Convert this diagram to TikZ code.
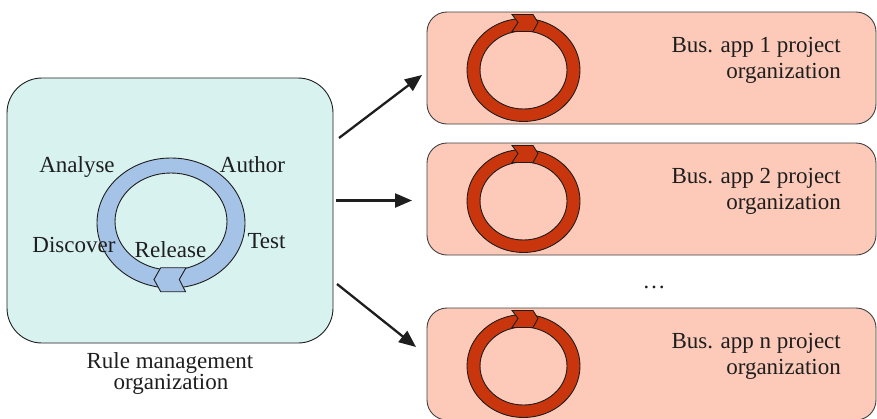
\documentclass[tikz,border=0pt]{standalone}
\usepackage{fontspec}
\setmainfont{Liberation Serif}
\usetikzlibrary{arrows.meta,calc}

\definecolor{orgfill}{HTML}{D8F2F0}
\definecolor{loopblue}{HTML}{A5C3E6}
\definecolor{appfill}{HTML}{FDCAB9}
\definecolor{loopred}{HTML}{C9350C}
\definecolor{ink}{HTML}{1E1E1E}

\tikzset{
  % circular arrow used in every project box
  apploop/.pic={
    \path[fill=loopred, draw=ink, line width=0.9pt, even odd rule]
      (0,0) ellipse [x radius=56.5pt, y radius=51.5pt]
      (0,0) ellipse [x radius=43.5pt, y radius=39pt];
    \path[fill=loopred, draw=ink, line width=0.9pt]
      (-11.5,-55.5) -- (9.5,-55.5) -- (14.5,-47.5) -- (9.5,-38.5)
      -- (-11.5,-38.5) -- (-5.5,-47.5) -- cycle;
  }
}

\begin{document}
\begin{tikzpicture}[x=1pt, y=-1pt,
  txt/.style={font=\fontsize{23}{26}\selectfont, text=ink, inner sep=0},
  orgbox/.style={draw=ink, line width=0.9pt, fill=orgfill, rounded corners=35pt,
    minimum width=326pt, minimum height=265pt, inner sep=0},
  appbox/.style={draw=ink!85, line width=0.9pt, fill=appfill, rounded corners=20pt,
    minimum width=449pt, minimum height=112pt, inner sep=0},
  lbl/.style={txt, anchor=base},
  rlbl/.style={txt, anchor=base east},
  flow/.style={draw=ink, line width=2.3pt, -{Triangle[length=17pt,width=14pt]}},
]
\useasboundingbox (0,0) rectangle (877,418);
\clip (0,0) rectangle (877,418);

% rule management organization
\node[orgbox] (org) at (170,210.5) {};
\path[fill=loopblue, draw=ink, line width=0.9pt, even odd rule]
  (171,223) ellipse [x radius=74pt, y radius=65pt]
  (171,221.5) ellipse [x radius=56pt, y radius=48.5pt];
\path[fill=loopblue, draw=ink, line width=0.9pt]
  (160.7,267.7) -- (186,267.7) -- (179.3,279.5) -- (185.5,291.7)
  -- (160.7,291.7) -- (154,279.5) -- cycle;
\node[lbl] (analyse)  at (77,172)    {Analyse};
\node[lbl] (author)   at (252.5,172) {Author};
\node[lbl] (discover) at (74,252)    {Discover};
\node[lbl] (release)  at (170.5,257) {Release};
\node[lbl] (test)     at (266.5,248) {Test};
\node[lbl] (orgname1) at (170,368)   {Rule management};
\node[lbl] (orgname2) at (171,389.5) {organization};

% business application project organizations
\node[appbox] (app1) at (651.5,68)  {};
\node[appbox] (app2) at (651.5,199) {};
\node[appbox] (app3) at (651.5,364) {};
\foreach \b in {app1,app2,app3}
  \pic at ($(\b.center)+(-128,2)$) {apploop};

\node[rlbl] (app1a) at ($(app1.north)+(189.5,41)$) {Bus. app 1 project};
\node[rlbl] (app1b) at ($(app1.north)+(189.5,67)$) {organization};
\node[rlbl] (app2a) at ($(app2.north)+(189.5,41)$) {Bus. app 2 project};
\node[rlbl] (app2b) at ($(app2.north)+(189.5,67)$) {organization};
\node[rlbl] (app3a) at ($(app3.north)+(189.5,41)$) {Bus. app n project};
\node[rlbl] (app3b) at ($(app3.north)+(189.5,67)$) {organization};

\node[lbl] (dots) at (654,288) {…};

% hand-over arrows
\coordinate (f1s) at (339,138);  \coordinate (f1e) at (422,75);
\coordinate (f2s) at (336,200.5);\coordinate (f2e) at (412,200.5);
\coordinate (f3s) at (337,284);  \coordinate (f3e) at (416,347);
\draw[flow] (f1s) -- (f1e);
\draw[flow] (f2s) -- (f2e);
\draw[flow] (f3s) -- (f3e);
\end{tikzpicture}
\end{document}
